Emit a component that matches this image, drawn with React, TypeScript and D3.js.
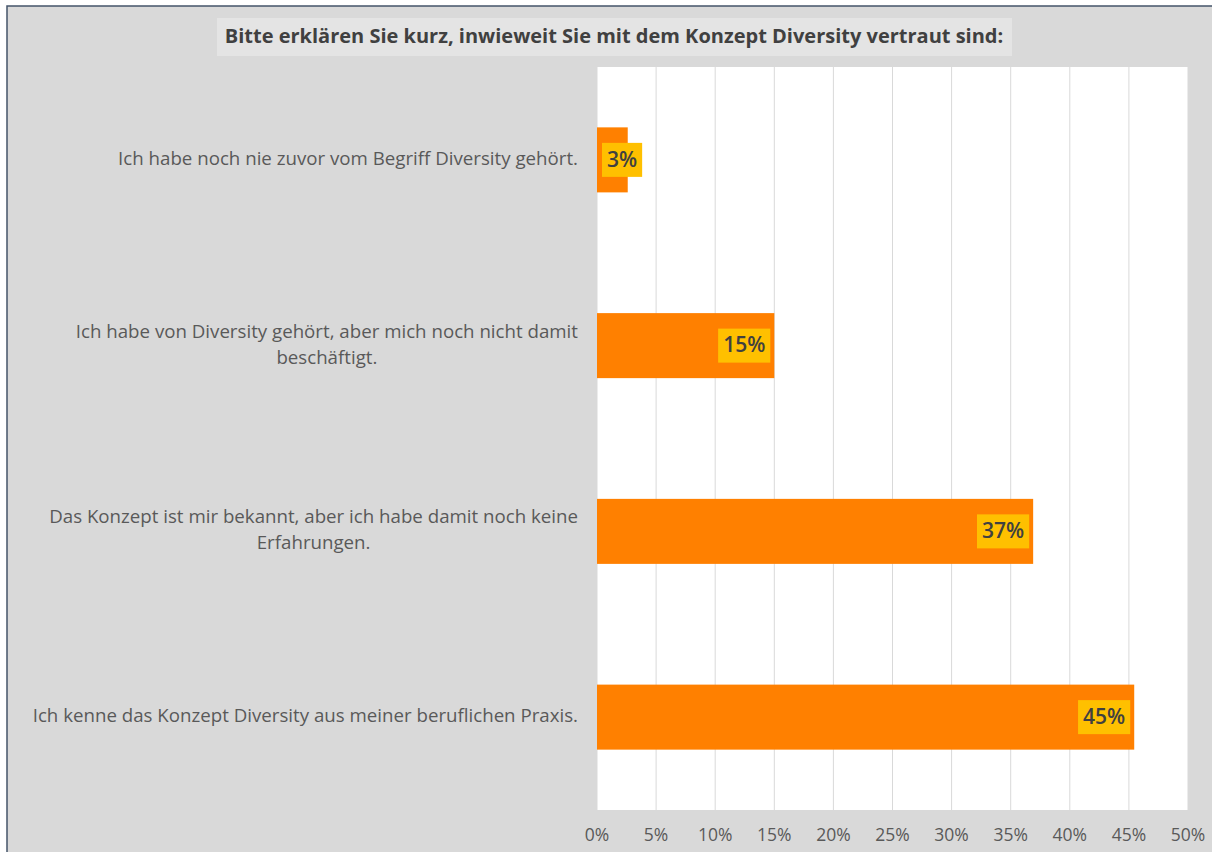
import { useMemo } from "react";
import * as d3 from "d3";

const W = 1212;
const H = 852;
const MARGIN = { top: 67, right: 24, bottom: 42, left: 597 };

const TITLE = "Bitte erklären Sie kurz, inwieweit Sie mit dem Konzept Diversity vertraut sind:";

// category labels, already broken into the lines shown in the chart
const categories = [
  ["Ich habe noch nie zuvor vom Begriff Diversity gehört."],
  ["Ich habe von Diversity gehört, aber mich noch nicht damit", "beschäftigt."],
  ["Das Konzept ist mir bekannt, aber ich habe damit noch keine", "Erfahrungen."],
  ["Ich kenne das Konzept Diversity aus meiner beruflichen Praxis."],
];
const values = [2.6, 15.0, 36.9, 45.45];
const ticks = [0, 5, 10, 15, 20, 25, 30, 35, 40, 45, 50];

const FONT = "'Open Sans', 'Noto Sans', sans-serif";
const TEXT = "#595959";
const DARK = "#404040";

// canvas based text measuring so multi-line labels can be centred on their longest line
let ctx: CanvasRenderingContext2D | null = null;
const measure = (txt: string, font: string) => {
  if (!ctx) ctx = document.createElement("canvas").getContext("2d");
  if (!ctx) return txt.length * 8;
  ctx.font = font;
  return ctx.measureText(txt).width;
};

export default function App() {
  const boundsWidth = W - MARGIN.left - MARGIN.right;
  const boundsHeight = H - MARGIN.top - MARGIN.bottom;

  const xScale = useMemo(
    () => d3.scaleLinear().domain([0, 50]).range([0, boundsWidth]),
    [boundsWidth]
  );
  const yScale = useMemo(
    () =>
      d3
        .scaleBand<number>()
        .domain(d3.range(categories.length))
        .range([0, boundsHeight])
        .paddingInner(0.65)
        .paddingOuter(0.325),
    [boundsHeight]
  );

  const catSize = 18.7;
  const catFont = `${catSize}px ${FONT}`;
  const lblFont = `600 21px ${FONT}`;

  const grid = ticks.map((t) => (
    <line
      key={t}
      x1={xScale(t)}
      x2={xScale(t)}
      y1={0}
      y2={boundsHeight}
      stroke="#d9d9d9"
      strokeWidth={1}
    />
  ));

  const tickLabels = ticks.map((t) => (
    <text
      key={t}
      x={xScale(t)}
      y={boundsHeight + 26}
      textAnchor="middle"
      dominantBaseline="middle"
      fontSize={17.5}
      fontFamily={FONT}
      fill={TEXT}
    >
      {t}%
    </text>
  ));

  const bars = values.map((v, i) => {
    const y = yScale(i) ?? 0;
    const bw = yScale.bandwidth();
    const xEnd = xScale(v);
    const lbl = `${Math.round(v)}%`;
    const tw = measure(lbl, lblFont);
    const boxW = tw + 10;
    const boxH = 34;
    const boxX = Math.max(xEnd - 4 - boxW, 5);
    return (
      <g key={i}>
        <rect x={0} y={y} width={xEnd} height={bw} fill="#ff8000" />
        <rect x={boxX} y={y + bw / 2 - boxH / 2} width={boxW} height={boxH} fill="#ffc000" />
        <text
          x={boxX + boxW / 2}
          y={y + bw / 2 + 1}
          textAnchor="middle"
          dominantBaseline="middle"
          fontSize={21}
          fontWeight={600}
          fontFamily={FONT}
          fill={DARK}
        >
          {lbl}
        </text>
      </g>
    );
  });

  const catLabels = categories.map((lines, i) => {
    const yc = (yScale(i) ?? 0) + yScale.bandwidth() / 2;
    const maxW = d3.max(lines, (l) => measure(l, catFont)) ?? 0;
    const cx = -19 - maxW / 2;
    const lh = 26;
    return (
      <text
        key={i}
        textAnchor="middle"
        dominantBaseline="middle"
        fontSize={catSize}
        fontFamily={FONT}
        fill={TEXT}
      >
        {lines.map((l, j) => (
          <tspan key={j} x={cx} y={yc + (j - (lines.length - 1) / 2) * lh}>
            {l}
          </tspan>
        ))}
      </text>
    );
  });

  const titleFont = `bold 20px ${FONT}`;
  const titleW = measure(TITLE, titleFont);
  const titleTarget = 783;

  return (
    <svg
      width={W}
      height={H}
      style={{ position: "absolute", left: 0, top: 0, background: "white" }}
    >
      <rect x={7} y={6} width={W} height={H} fill="#d9d9d9" stroke="#44546a" strokeWidth={1.5} />
      <rect x={217} y={18} width={795} height={38} fill="#e4e4e4" />
      <text
        x={614}
        y={38}
        textAnchor="middle"
        dominantBaseline="middle"
        fontSize={20}
        fontWeight="bold"
        fontFamily={FONT}
        fill={DARK}
        textLength={titleW > titleTarget ? titleTarget : undefined}
        lengthAdjust="spacingAndGlyphs"
      >
        {TITLE}
      </text>
      <g transform={`translate(${MARGIN.left},${MARGIN.top})`}>
        <rect x={0} y={0} width={boundsWidth} height={boundsHeight} fill="white" />
        {grid}
        {bars}
        {tickLabels}
        {catLabels}
      </g>
    </svg>
  );
}
